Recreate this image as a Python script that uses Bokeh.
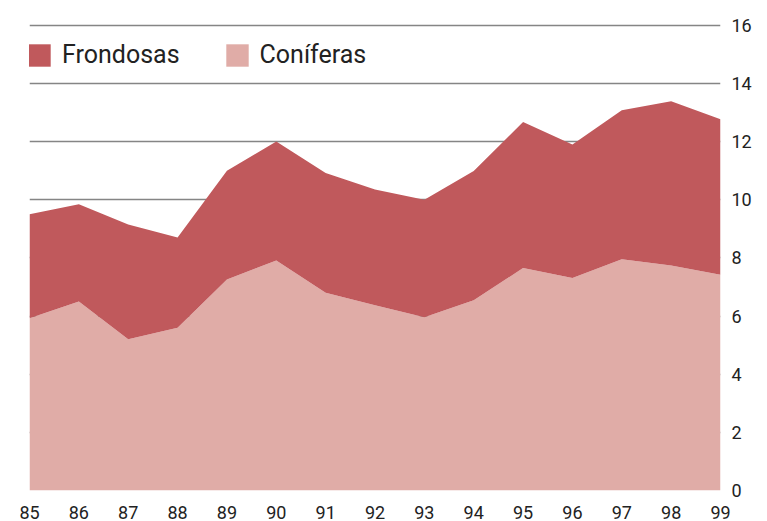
from bokeh.plotting import figure
from bokeh.models import ColumnDataSource, FixedTicker, Legend, LegendItem, Range1d
from bokeh.embed import file_html
from bokeh.resources import INLINE

years = [85, 86, 87, 88, 89, 90, 91, 92, 93, 94, 95, 96, 97, 98, 99]
coniferas = [5.92, 6.5, 5.2, 5.6, 7.26, 7.91, 6.8, 6.37, 5.96, 6.54, 7.65, 7.31, 7.95, 7.74, 7.42]
total = [9.5, 9.84, 9.15, 8.7, 11.0, 12.0, 10.92, 10.35, 10.0, 10.99, 12.67, 11.9, 13.08, 13.39, 12.77]
frondosas = [t - c for t, c in zip(total, coniferas)]
y_ticks = [0, 2, 4, 6, 8, 10, 12, 14, 16]
series_names = ["Coníferas", "Frondosas"]
colors = ["#e0aca7", "#c0595c"]

src = ColumnDataSource(dict(x=years, Coníferas=coniferas, Frondosas=frondosas))

p = figure(width=767, height=521, output_backend="svg", toolbar_location=None,
           x_range=Range1d(85, 99), y_range=Range1d(0, 16.06), y_axis_location="right",
           min_border_left=29, min_border_right=47, min_border_top=23, min_border_bottom=31)
p.outline_line_color = None
p.background_fill_color = "white"

renderers = p.varea_stack(stackers=series_names, x="x", color=colors, source=src)

p.xgrid.grid_line_color = None
p.ygrid.ticker = FixedTicker(ticks=y_ticks)
p.ygrid.grid_line_color = "#858585"
p.ygrid.grid_line_width = 1.5

p.xaxis.ticker = FixedTicker(ticks=years)
p.yaxis.ticker = FixedTicker(ticks=y_ticks)
for ax in (p.xaxis, p.yaxis):
    ax.axis_line_color = None
    ax.major_tick_line_color = None
    ax.minor_tick_line_color = None
    ax.major_label_text_font = "Roboto"
    ax.major_label_text_font_size = "18px"
    ax.major_label_text_color = "#222222"
p.xaxis.major_label_standoff = 9
p.yaxis.major_label_standoff = 5

legend = Legend(items=[LegendItem(label="Frondosas", renderers=[renderers[1]]),
                       LegendItem(label="Coníferas", renderers=[renderers[0]])],
                orientation="horizontal", location=(-4, 421),
                padding=0, margin=0, spacing=43, label_standoff=9,
                glyph_width=28, glyph_height=28, label_height=28,
                border_line_color=None, background_fill_alpha=0,
                label_text_font="Roboto", label_text_font_size="25px",
                label_text_color="#222222")
p.add_layout(legend)

open("out.html", "w").write(file_html(p, INLINE))
